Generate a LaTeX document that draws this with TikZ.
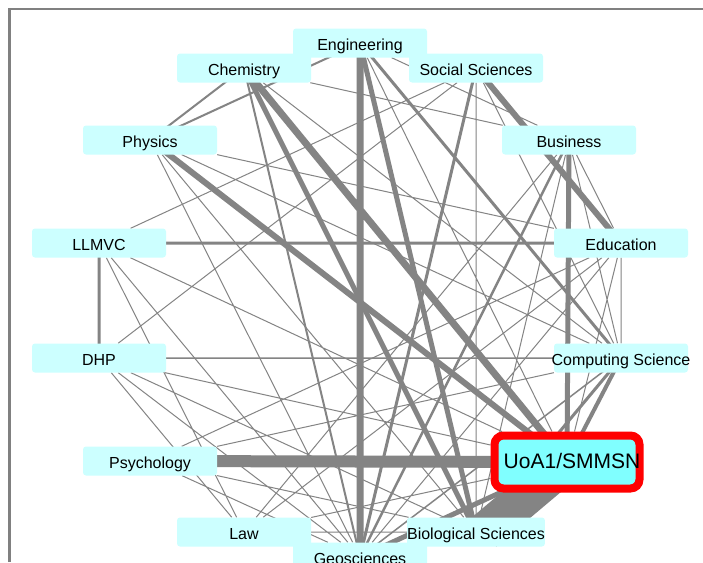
\documentclass[tikz,border=0pt]{standalone}
\usepackage{fontspec}
\setmainfont{Liberation Sans}
\usepackage{tikz}
\usetikzlibrary{backgrounds}
\definecolor{edgegray}{RGB}{132,132,132}
\definecolor{framegray}{RGB}{128,128,128}
\definecolor{paleaqua}{RGB}{204,255,255}
\definecolor{brightaqua}{RGB}{128,255,255}
\definecolor{hotred}{RGB}{255,0,0}
\tikzset{
  dept/.style={rectangle, fill=paleaqua, minimum width=134pt,
    minimum height=29pt, inner sep=0pt, rounded corners=3pt,
    text height=16pt, text depth=2pt,
    font=\fontsize{16}{18}\selectfont},
  unit/.style={rectangle, fill=brightaqua, draw=hotred, line width=8pt,
    minimum width=145pt, minimum height=53pt, inner sep=0pt,
    rounded corners=9pt, text height=16pt, text depth=3pt,
    font=\fontsize{21}{24}\selectfont},
  link/.style={draw=edgegray, line cap=butt}
}

\begin{document}
\begin{tikzpicture}[x=1pt, y=-1pt]
  \useasboundingbox (0,0) rectangle (703,562);

  % departments round the ring
  \node[dept] (eng)  at (360,43)  {Engineering};
  \node[dept] (chem) at (244,68)  {Chemistry};
  \node[dept] (soc)  at (476,68)  {Social Sciences};
  \node[dept] (phys) at (150,140) {Physics};
  \node[dept] (bus)  at (569,140) {Business};
  \node[dept] (llm)  at (99,243)  {LLMVC};
  \node[dept] (edu)  at (621,243) {Education};
  \node[dept] (dhp)  at (99,358)  {DHP};
  \node[dept] (comp) at (621,358) {\makebox[0pt][c]{Computing Science}};
  \node[dept] (psy)  at (150,461) {Psychology};
  \node[dept] (law)  at (244,532) {Law};
  \node[dept] (bio)  at (476,532) {Biological Sciences};
  \node[dept] (geo)  at (360,557) {Geosciences};
  \node[unit] (uoa)  at (567,462) {\makebox[0pt][c]{\hspace*{10pt}UoA1/SMMSN}};

  \begin{scope}[on background layer]
    \fill[white] (0,0) rectangle (703,562);
    \draw[framegray, line width=2.5pt] (9.5,562) -- (9.5,9) -- (703,9);

    % heavy links
    \draw[link, line width=38pt] ([xshift=8pt]bio.center) -- (uoa.center);
    \draw[link, line width=12pt] (psy.center) -- (uoa.center);
    \draw[link, line width=7pt] (chem.center) -- (uoa.center)
      (eng.center) -- (geo.center);
    \draw[link, line width=6pt] (phys.center) -- (uoa.center)
      (soc.center) -- (edu.center);
    \draw[link, line width=5pt] (bus.center) -- (uoa.center)
      (eng.center) -- (bio.center) (chem.center) -- (bio.center)
      (geo.center) -- (uoa.center);
    \draw[link, line width=4pt] (comp.center) -- (uoa.center)
      (geo.center) -- (bio.center);
    \draw[link, line width=3pt] (soc.center) -- (geo.center)
      (eng.center) -- (comp.center) (llm.center) -- (edu.center)
      (llm.center) -- (dhp.center) (comp.center) -- (bio.center);

    % medium links
    \draw[link, line width=2.5pt] (bus.center) -- (geo.center);
    \draw[link, line width=2pt] (phys.center) -- (chem.center)
      (phys.center) -- (eng.center) (chem.center) -- (geo.center);
    \draw[link, line width=1.5pt] (chem.center) -- (eng.center)
      (eng.center) -- (soc.center) (dhp.center) -- (comp.center)
      (comp.center) -- (geo.center);

    % thin links
    \draw[link, line width=1pt] (llm) -- (soc) (llm) -- (law)
      (llm) -- (geo) (llm) -- (uoa)
      (dhp) -- (soc) (dhp) -- (geo) (dhp) -- (bio) (dhp) -- (uoa)
      (dhp) -- (law)
      (phys) -- (geo) (phys) -- (comp) (phys) -- (edu) (phys) -- (bio)
      (chem) -- (comp) (chem) -- (bus)
      (eng) -- (uoa) (eng) -- (bus)
      (soc) -- (bio) (soc) -- (comp)
      (bus) -- (edu) (bus) -- (comp) (bus) -- (law) (bus) -- (bio)
      (edu) -- (comp) (edu) -- (psy) (edu) -- (law) (edu) -- (geo)
      (edu) -- (uoa)
      (psy) -- (comp) (psy) -- (geo) (psy) -- (bio)
      (law) -- (bio) (law) -- (uoa) (law) -- (geo);
  \end{scope}
\end{tikzpicture}
\end{document}
